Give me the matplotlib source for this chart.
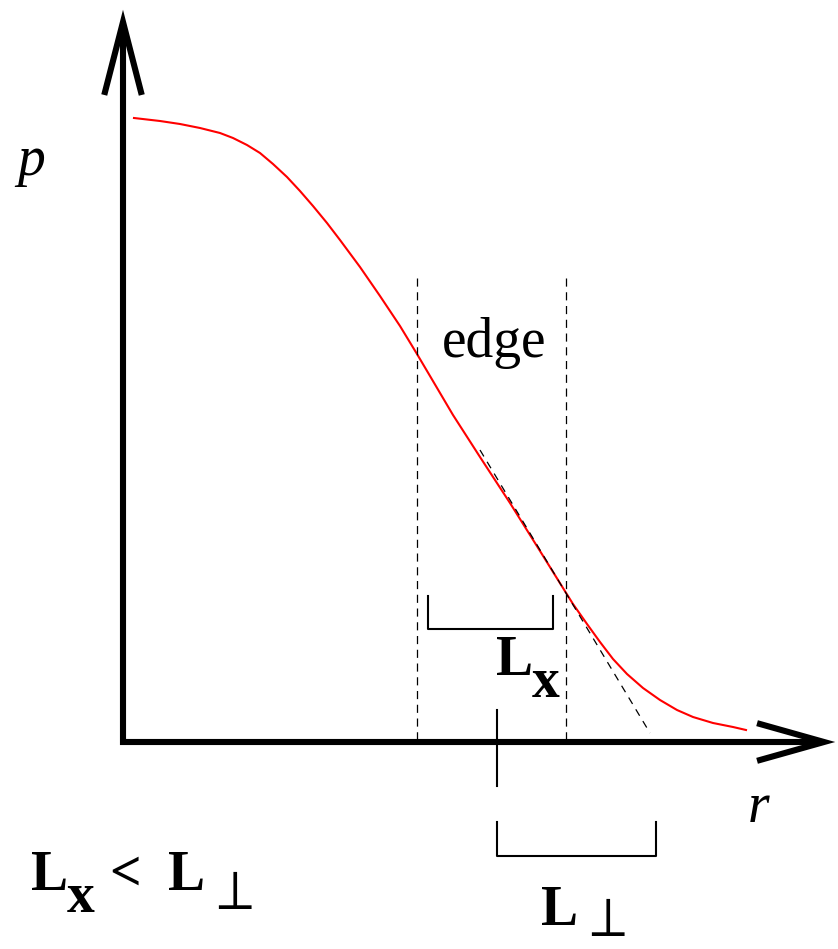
import matplotlib
matplotlib.use("Agg")
import matplotlib.pyplot as plt

plt.rcParams["mathtext.fontset"] = "stix"

# pressure profile (pixel coords, y down)
curve_r = [134, 160, 180, 200, 220, 233, 247, 260, 273, 287, 300, 313, 327, 340,
           360, 380, 400, 417, 430, 453, 480, 510, 540, 563, 573, 587, 600, 613,
           627, 643, 660, 677, 693, 713, 733, 746]
curve_p = [118, 121, 124, 128, 133, 138, 145, 153, 164, 177, 191, 206, 223, 240,
           267, 296, 326, 354, 376, 415, 457, 503, 551, 588, 604, 624, 642, 659,
           674, 688, 700, 710, 717, 723, 727, 730]

# tangent line at the edge
tangent_r = [480, 650]
tangent_p = [450, 733]

# edge limits and bracket extents
edge_r = [417, 566]
edge_top = 278
lx_bracket = [428, 553]
lperp_bracket = [497, 656]

fig = plt.figure(figsize=(8.38, 9.49), dpi=100)
ax = fig.add_axes([0, 0, 1, 1])
ax.set_xlim(0, 838)
ax.set_ylim(949, 0)
ax.axis("off")

# axes with open arrowheads
ax.plot([123, 123], [745, 30], color="black", lw=4.4, solid_capstyle="butt")
ax.plot([105, 123, 141], [92, 22, 92], color="black", lw=4.4, solid_joinstyle="miter")
ax.plot([120, 820], [742, 742], color="black", lw=4.4, solid_capstyle="butt")
ax.plot([760, 824, 760], [724, 742, 760], color="black", lw=4.4, solid_joinstyle="miter")

# profile
ax.plot(curve_r, curve_p, color="red", lw=1.5, solid_joinstyle="round")

# tangent
ax.plot(tangent_r, tangent_p, color="black", lw=0.9, ls=(0, (6, 5)))

# edge dashed lines
for x in edge_r:
    ax.plot([x, x], [edge_top, 742], color="black", lw=0.9, ls=(0, (6.5, 4.5)))

# tick at r axis
ax.plot([497, 497], [710, 786], color="black", lw=1.5)

# brackets
ax.plot([lx_bracket[0], lx_bracket[0], lx_bracket[1], lx_bracket[1]],
        [596, 629, 629, 596], color="black", lw=1.5)
ax.plot([lperp_bracket[0], lperp_bracket[0], lperp_bracket[1], lperp_bracket[1]],
        [822, 856, 856, 822], color="black", lw=1.5)

serif = ["Liberation Serif", "DejaVu Serif"]
fs = 40

ax.text(17, 175, "p", fontsize=fs, family=serif, style="italic", va="baseline")
ax.text(748, 822, "r", fontsize=fs, family=serif, style="italic", va="baseline")
ax.text(442, 357, "edge", fontsize=fs, family=serif, va="baseline")

# L_x under the small bracket
ax.text(496, 675, "L", fontsize=fs, family=serif, weight="bold", va="baseline")
ax.text(532, 697, "x", fontsize=fs, family=serif, weight="bold", va="baseline")

# L_perp under the big bracket
ax.text(541, 925, "L", fontsize=fs, family=serif, weight="bold", va="baseline")
ax.text(580, 936, r"$\perp$", fontsize=fs, va="baseline")

# L_x < L_perp
ax.text(31, 890, "L", fontsize=fs, family=serif, weight="bold", va="baseline")
ax.text(67, 912, "x", fontsize=fs, family=serif, weight="bold", va="baseline")
ax.text(109, 890, "<", fontsize=fs, family=serif, weight="bold", va="baseline")
ax.text(168, 890, "L", fontsize=fs, family=serif, weight="bold", va="baseline")
ax.text(207, 909, r"$\perp$", fontsize=fs, va="baseline")

fig.savefig("out.png", dpi=100)
